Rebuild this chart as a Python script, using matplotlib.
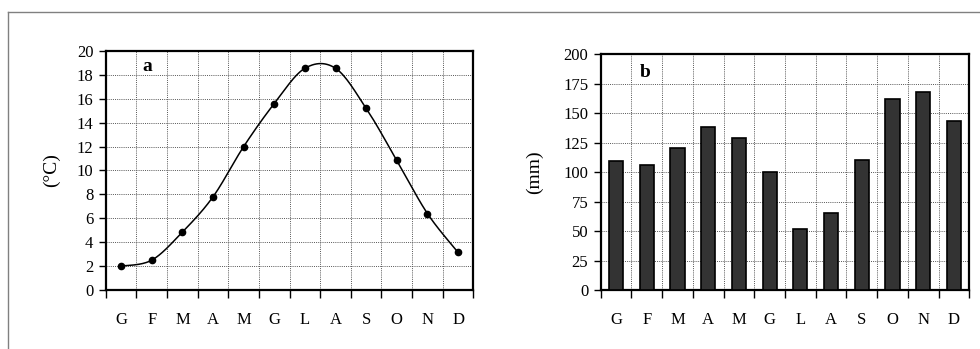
import numpy as np
import matplotlib.pyplot as plt
from matplotlib.lines import Line2D

plt.rcParams['font.family'] = ['Liberation Serif', 'DejaVu Serif']

months = ['G', 'F', 'M', 'A', 'M', 'G', 'L', 'A', 'S', 'O', 'N', 'D']
temp = [2.0, 2.5, 4.85, 7.8, 12.0, 15.6, 18.55, 18.55, 15.2, 10.85, 6.4, 3.15]
rain = [109, 106, 120, 138, 129, 100, 52, 65, 110, 162, 168, 143]


def smooth(x, y, n=30):
    # Excel-style smoothed line: cubic bezier with catmull-rom control points
    pts = np.column_stack([x, y]).astype(float)
    pad = np.vstack([pts[0], pts, pts[-1]])
    out = []
    for i in range(1, len(pad) - 2):
        p0, p1, p2, p3 = pad[i - 1], pad[i], pad[i + 1], pad[i + 2]
        c1 = p1 + (p2 - p0) / 6
        c2 = p2 - (p3 - p1) / 6
        t = np.linspace(0, 1, n)[:, None]
        seg = (1 - t) ** 3 * p1 + 3 * (1 - t) ** 2 * t * c1 + 3 * (1 - t) * t ** 2 * c2 + t ** 3 * p2
        out.append(seg)
    out = np.vstack(out)
    return out[:, 0], out[:, 1]


fig = plt.figure(figsize=(9.8, 3.49), dpi=100)
ax1 = fig.add_axes([0.108, 0.169, 0.375, 0.685])
ax2 = fig.add_axes([0.613, 0.169, 0.376, 0.676])

x = np.arange(len(months))
grid_kw = dict(color='#555555', linestyle=(0, (1, 1.2)), linewidth=0.7)


def style(ax):
    ax.set_xlim(-0.5, len(months) - 0.5)
    ax.set_xticks(np.arange(-0.5, len(months), 1))
    ax.set_xticklabels([])
    ax.set_xticks(x, minor=True)
    ax.set_xticklabels(months, minor=True, fontsize=12)
    ax.tick_params(axis='x', which='major', length=6, width=1, direction='out')
    ax.tick_params(axis='x', which='minor', length=0, pad=16)
    ax.tick_params(axis='y', length=5, width=1, labelsize=12, pad=4)
    ax.grid(True, which='major', **grid_kw)
    ax.set_axisbelow(True)
    for s in ax.spines.values():
        s.set_linewidth(1.6)


style(ax1)
sx, sy = smooth(x, temp)
ax1.plot(sx, sy, color='black', lw=1.1)
ax1.plot(x, temp, 'o', color='black', ms=4.5)
ax1.set_ylim(0, 20)
ax1.set_yticks(range(0, 21, 2))
ax1.set_ylabel('(°C)', fontsize=14, va='center')
ax1.yaxis.set_label_coords(-0.147, 0.5)
ax1.text(0.10, 0.937, 'a', transform=ax1.transAxes, fontsize=14, fontweight='bold', va='center')

style(ax2)
ax2.bar(x, rain, width=0.46, color='#333333', edgecolor='black', linewidth=1.2, zorder=3)
ax2.set_ylim(0, 200)
ax2.set_yticks(range(0, 201, 25))
ax2.set_ylabel('(mm)', fontsize=14, va='center')
ax2.yaxis.set_label_coords(-0.179, 0.5)
ax2.text(0.106, 0.92, 'b', transform=ax2.transAxes, fontsize=14, fontweight='bold', va='center')

# partial frame around the figure
fig.add_artist(Line2D([8 / 980, 1], [1 - 12 / 349] * 2, color='#808080', lw=1))
fig.add_artist(Line2D([8 / 980] * 2, [0, 1 - 12 / 349], color='#808080', lw=1))

fig.savefig('out.png', dpi=100)
